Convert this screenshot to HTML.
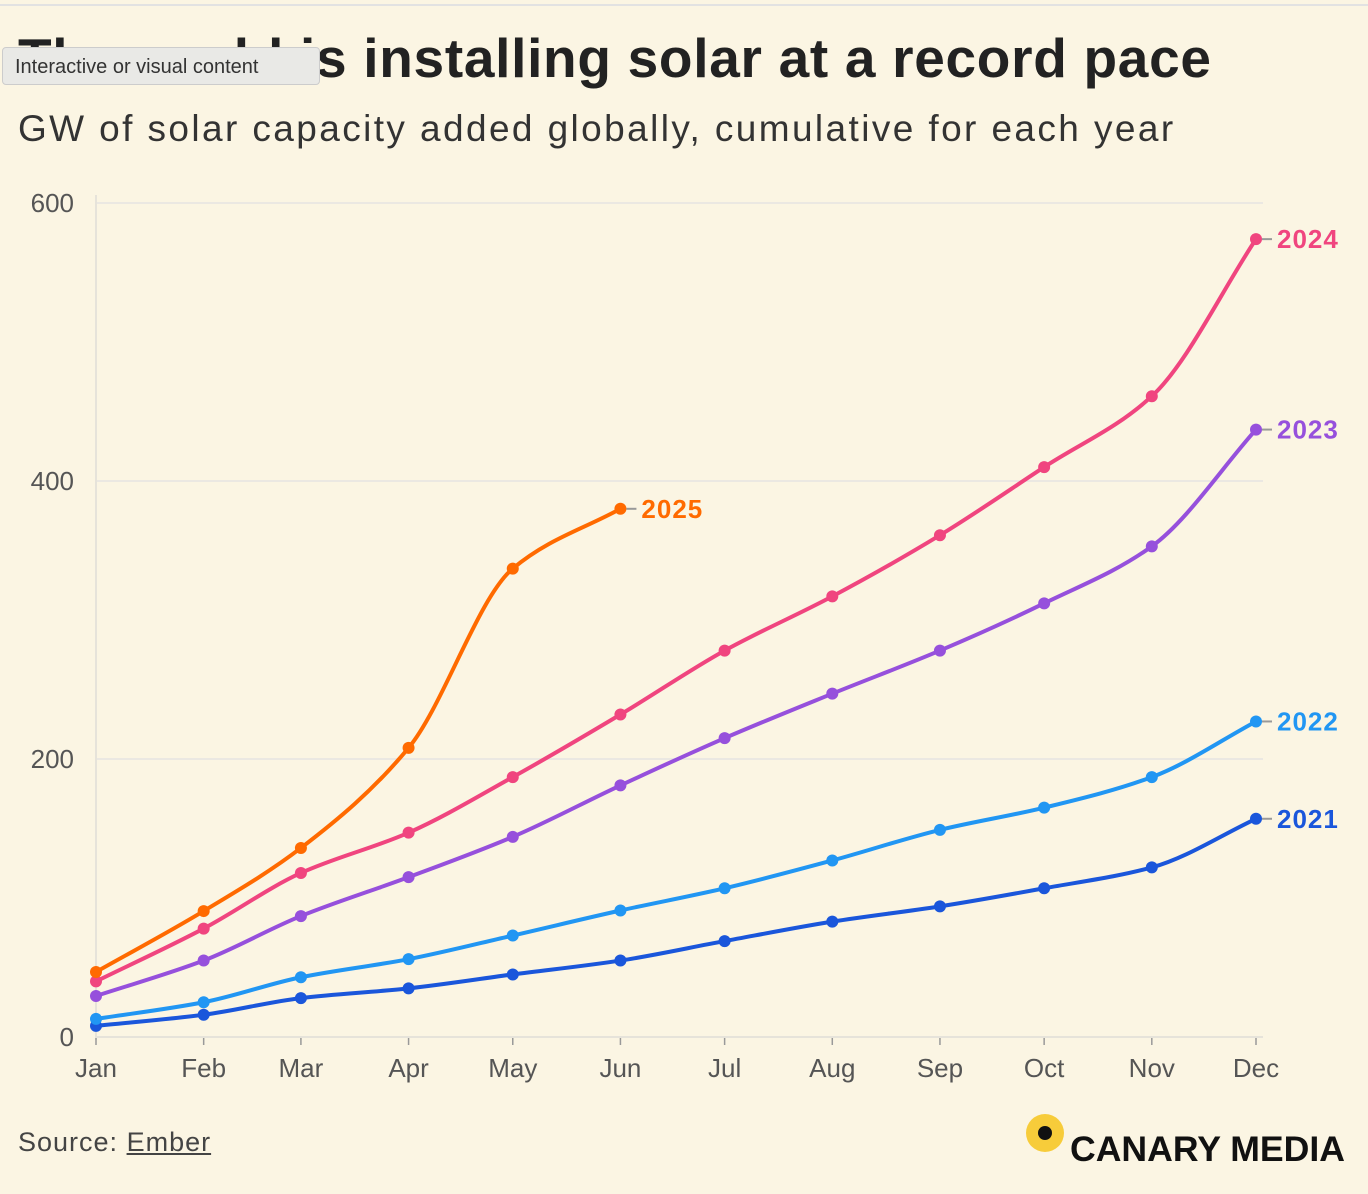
<!DOCTYPE html>
<html><head><meta charset="utf-8">
<style>
body{margin:0;background:#fbf5e3;width:1368px;height:1194px;overflow:hidden;font-family:"Liberation Sans",sans-serif;position:relative}
.topline{position:absolute;left:0;top:4px;width:1368px;height:2px;background:#e2e2e2}
h1{position:absolute;left:18px;top:26px;margin:0;font-size:55px;font-weight:bold;color:#222;letter-spacing:0.7px}
.tip{position:absolute;left:2px;top:47px;width:318px;height:38px;background:#e9e9e6;border:1px solid #ccc;border-radius:4px;font-size:20px;color:#333;line-height:38px;padding-left:12px;box-sizing:border-box}
.sub{position:absolute;left:18px;top:108px;font-size:37px;color:#333;letter-spacing:2.4px}
.src{position:absolute;left:18px;top:1127px;font-size:27px;color:#444;letter-spacing:1px}
.src u{color:#444}
.logo{position:absolute;left:1026px;top:1114px}
</style></head><body>
<div class="topline"></div>
<h1>The world is installing solar at a record pace</h1>
<div class="tip">Interactive or visual content</div>
<div class="sub">GW of solar capacity added globally, cumulative for each year</div>
<svg id="chart" width="1368" height="1194" style="position:absolute;left:0;top:0"></svg>
<div class="src">Source: <u>Ember</u></div>
<div class="logo">
<svg width="330" height="60"><circle cx="19" cy="19" r="19" fill="#f7cc3a"/><circle cx="19" cy="19" r="7" fill="#111"/><text x="44" y="47" font-size="35" font-weight="bold" fill="#111" font-family="Liberation Sans" textLength="275" lengthAdjust="spacingAndGlyphs">CANARY MEDIA</text></svg>
</div>
<script>
const months=["Jan","Feb","Mar","Apr","May","Jun","Jul","Aug","Sep","Oct","Nov","Dec"];
const yTicks=[0,200,400,600];
const years=["2021","2022","2023","2024","2025"];
const colors=["#1a56db","#2196f3","#9650dc","#f0457f","#ff6a00"];
const v2021=[8,16,28,35,45,55,69,83,94,107,122,157];
const v2022=[13,25,43,56,73,91,107,127,149,165,187,227];
const v2023=[29.5,55,87,115,144,181,215,247,278,312,353,437];
const v2024=[40,78,118,147,187,232,278,317,361,410,461,574];
const v2025=[46.8,90.6,136,208,337,380];
const series=[v2021,v2022,v2023,v2024,v2025];

const NS="http://www.w3.org/2000/svg";
const svg=document.getElementById('chart');
// time axis: month start as day of (non-leap) year
const dayOf=i=>(Date.UTC(2021,i,1)-Date.UTC(2021,0,1))/86400000;
const x=i=>96+dayOf(i)*(1160/dayOf(11));
const y=v=>1037-v*1.39;
function mk(t,a,p){const e=document.createElementNS(NS,t);for(const k in a)e.setAttribute(k,a[k]);(p||svg).appendChild(e);return e;}

for(const t of yTicks){
 const g=mk('line',{x1:96,x2:1263,y1:y(t),y2:y(t),stroke:t===0?'#e6e3da':'#ebe8e2','stroke-width':2});
 
 
 const l=mk('text',{x:74,y:y(t)+9,'text-anchor':'end','font-size':26,fill:'#555'});
 l.textContent=t;
 
 
}
const ax=mk('line',{x1:96,x2:96,y1:195,y2:1040,stroke:'#e6e3da','stroke-width':2});


months.forEach((m,i)=>{
 const tk=mk('line',{x1:x(i),x2:x(i),y1:1038,y2:1045,stroke:'#999','stroke-width':1.5});
 
 
 const l=mk('text',{x:x(i),y:1077,'text-anchor':'middle','font-size':26,fill:'#555'});
 l.textContent=m;
 
 
});

function monoPath(pts){
 const n=pts.length;if(n<2)return'';
 const d=[],m=[];
 for(let i=0;i<n-1;i++)d.push((pts[i+1][1]-pts[i][1])/(pts[i+1][0]-pts[i][0]));
 m[0]=d[0];m[n-1]=d[n-2];
 for(let i=1;i<n-1;i++){m[i]=(d[i-1]*d[i]<=0)?0:2/(1/d[i-1]+1/d[i]);}
 let s='M'+pts[0][0]+','+pts[0][1];
 for(let i=0;i<n-1;i++){
  const h=(pts[i+1][0]-pts[i][0])/3;
  s+=' C'+(pts[i][0]+h)+','+(pts[i][1]+m[i]*h)+' '+(pts[i+1][0]-h)+','+(pts[i+1][1]-m[i+1]*h)+' '+pts[i+1][0]+','+pts[i+1][1];
 }
 return s;
}
series.forEach((vals,si)=>{
 const pts=vals.map((v,i)=>[x(i),y(v)]);
 const p=mk('path',{d:monoPath(pts),fill:'none',stroke:colors[si],'stroke-width':4,'stroke-linejoin':'round'});
 
 
 pts.forEach(pt=>{
  const c=mk('circle',{cx:pt[0],cy:pt[1],r:6,fill:colors[si]});
  
  
 });
 const last=pts[pts.length-1];
 const ld=mk('line',{x1:last[0]+6,x2:last[0]+16,y1:last[1],y2:last[1],stroke:'#999','stroke-width':2});
 
 
 const t=mk('text',{x:last[0]+21,y:last[1]+9,'font-size':26,'font-weight':'bold',fill:colors[si],'letter-spacing':1});
 t.textContent=years[si];
 
 
});
</script>
</body></html>
